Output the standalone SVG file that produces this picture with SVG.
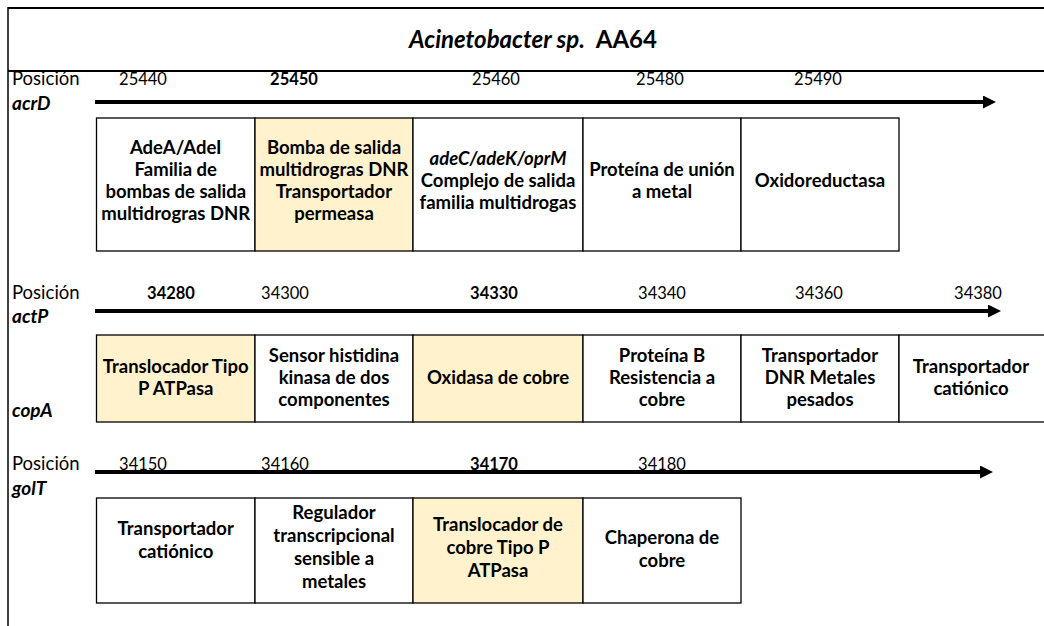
<svg xmlns="http://www.w3.org/2000/svg" width="1044" height="626" viewBox="0 0 1044 626">
<style>
text{font-family:Lato,"Liberation Sans",sans-serif;fill:#000}
.t{font-size:24px;font-weight:bold}
.lbl{font-size:18.5px}
.gene{font-size:19px;font-weight:bold;font-style:italic}
.num{font-size:16.5px;text-anchor:middle}
.b{font-weight:bold}
.bx text{font-size:18.5px;font-weight:bold;text-anchor:middle}
.bx rect{stroke:#000;stroke-width:1.3;fill:#fff}
.bx rect.y{fill:#FFF2CC}
.frame{stroke:#000;fill:none}
.arr{stroke:#000;stroke-width:4;fill:none}
</style>
<defs>
<marker id="ah" markerUnits="userSpaceOnUse" markerWidth="14" markerHeight="13" refX="0" refY="6.5" orient="auto">
<path d="M0,0 L13,6.5 L0,13 z" fill="#000"/>
</marker>
</defs>
<rect width="1044" height="626" fill="#fff"/>
<g id="frame">
<line class="frame" x1="8" y1="8" x2="1044" y2="8" stroke-width="2"/>
<line class="frame" x1="8" y1="71" x2="1044" y2="71" stroke-width="2"/>
<line class="frame" x1="8" y1="7" x2="8" y2="626" stroke-width="1.5"/>
</g>
<g id="title"><text class="t" x="533" y="48" text-anchor="middle" xml:space="preserve"><tspan font-style="italic">Acinetobacter sp.</tspan>  AA64</text></g>

<g id="labels">
<text class="lbl" x="12" y="85">Posición</text>
<text class="gene" x="12" y="110">acrD</text>
<text class="lbl" x="12" y="299">Posición</text>
<text class="gene" x="12" y="323">actP</text>
<text class="gene" x="12" y="417">copA</text>
<text class="lbl" x="12" y="470">Posición</text>
<text class="gene" x="12" y="495">golT</text>
</g>
<g id="positions">
<text class="num" x="143" y="85">25440</text>
<text class="num b" x="294" y="85">25450</text>
<text class="num" x="496" y="85">25460</text>
<text class="num" x="660" y="85">25480</text>
<text class="num" x="818" y="85">25490</text>
<text class="num b" x="171" y="299">34280</text>
<text class="num" x="285" y="299">34300</text>
<text class="num b" x="494" y="299">34330</text>
<text class="num" x="662" y="299">34340</text>
<text class="num" x="819" y="299">34360</text>
<text class="num" x="978" y="299">34380</text>
<text class="num" x="143" y="470">34150</text>
<text class="num" x="285" y="470">34160</text>
<text class="num b" x="494" y="470">34170</text>
<text class="num" x="662" y="470">34180</text>
</g>
<g id="connectors">
<line class="arr" x1="95" y1="102" x2="983" y2="102" marker-end="url(#ah)"/>
<line class="arr" x1="95" y1="311" x2="988" y2="311" marker-end="url(#ah)"/>
<line class="arr" x1="95" y1="472" x2="980" y2="472" marker-end="url(#ah)"/>
</g>

<g class="bx">
<g id="r1b1"><rect x="96.5" y="118" width="158.5" height="133"/>
<text x="175.75"><tspan x="175.75" y="154">AdeA/AdeI</tspan><tspan x="175.75" y="176">Familia de</tspan><tspan x="175.75" y="198">bombas de salida</tspan><tspan x="175.75" y="220">multidrogras DNR</tspan></text></g>
<g id="r1b2"><rect class="y" x="255" y="118" width="158" height="133"/>
<text x="334"><tspan x="334" y="154">Bomba de salida</tspan><tspan x="334" y="176">multidrogras DNR</tspan><tspan x="334" y="198">Transportador</tspan><tspan x="334" y="220">permeasa</tspan></text></g>
<g id="r1b3"><rect x="413" y="118" width="170" height="133"/>
<text x="498"><tspan x="498" y="165" font-style="italic">adeC/adeK/oprM</tspan><tspan x="498" y="187">Complejo de salida</tspan><tspan x="498" y="209">familia multidrogas</tspan></text></g>
<g id="r1b4"><rect x="583" y="118" width="158" height="133"/>
<text x="662"><tspan x="662" y="176">Proteína de unión</tspan><tspan x="662" y="198">a metal</tspan></text></g>
<g id="r1b5"><rect x="741" y="118" width="158" height="133"/>
<text x="820" y="187">Oxidoreductasa</text></g>

<g id="r2b1"><rect class="y" x="96.5" y="335" width="158.5" height="87"/>
<text x="175.75"><tspan x="175.75" y="373">Translocador Tipo</tspan><tspan x="175.75" y="395">P ATPasa</tspan></text></g>
<g id="r2b2"><rect x="255" y="335" width="158" height="87"/>
<text x="334"><tspan x="334" y="362">Sensor histidina</tspan><tspan x="334" y="384">kinasa de dos</tspan><tspan x="334" y="406">componentes</tspan></text></g>
<g id="r2b3"><rect class="y" x="413" y="335" width="170" height="87"/>
<text x="498" y="384">Oxidasa de cobre</text></g>
<g id="r2b4"><rect x="583" y="335" width="158" height="87"/>
<text x="662"><tspan x="662" y="362">Proteína B</tspan><tspan x="662" y="384">Resistencia a</tspan><tspan x="662" y="406">cobre</tspan></text></g>
<g id="r2b5"><rect x="741" y="335" width="158" height="87"/>
<text x="820"><tspan x="820" y="362">Transportador</tspan><tspan x="820" y="384">DNR Metales</tspan><tspan x="820" y="406">pesados</tspan></text></g>
<g id="r2b6"><rect x="899" y="335" width="150" height="87"/>
<text x="971"><tspan x="971" y="373">Transportador</tspan><tspan x="971" y="395">catiónico</tspan></text></g>

<g id="r3b1"><rect x="96.5" y="498" width="158.5" height="105"/>
<text x="175.75"><tspan x="175.75" y="535">Transportador</tspan><tspan x="175.75" y="558">catiónico</tspan></text></g>
<g id="r3b2"><rect x="255" y="498" width="158" height="105"/>
<text x="334"><tspan x="334" y="519">Regulador</tspan><tspan x="334" y="542">transcripcional</tspan><tspan x="334" y="565">sensible a</tspan><tspan x="334" y="588">metales</tspan></text></g>
<g id="r3b3"><rect class="y" x="413" y="498" width="170" height="105"/>
<text x="498"><tspan x="498" y="531">Translocador de</tspan><tspan x="498" y="554">cobre Tipo P</tspan><tspan x="498" y="577">ATPasa</tspan></text></g>
<g id="r3b4"><rect x="583" y="498" width="158" height="105"/>
<text x="662"><tspan x="662" y="544">Chaperona de</tspan><tspan x="662" y="567">cobre</tspan></text></g>
</g>
</svg>
